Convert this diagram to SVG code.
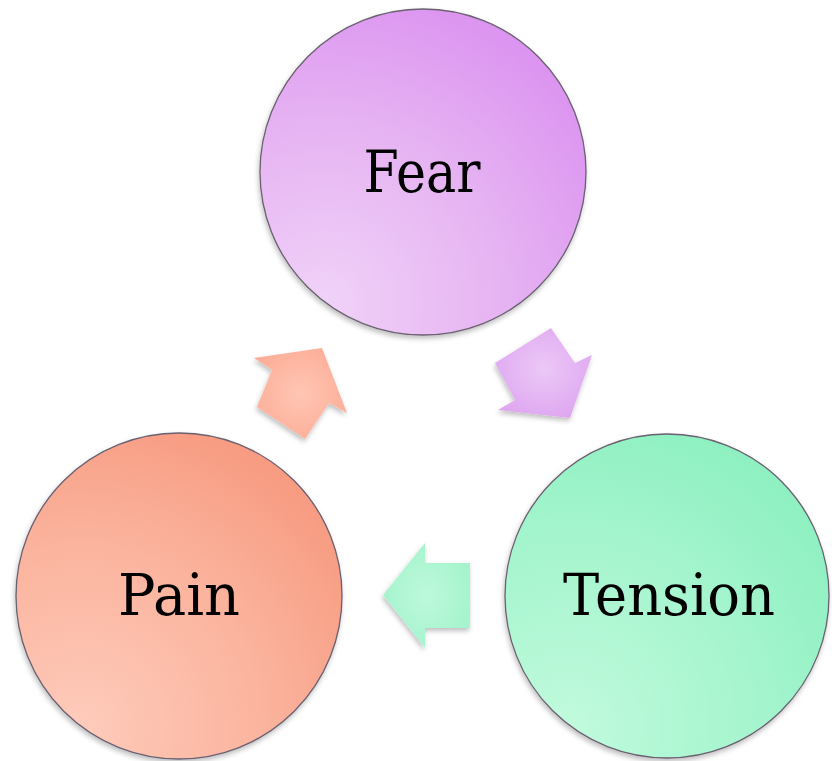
<svg xmlns="http://www.w3.org/2000/svg" width="832" height="761" viewBox="0 0 832 761">
<defs>
<radialGradient id="gFear" cx="0.2" cy="0.9" r="1.1">
<stop offset="0" stop-color="#f0d2f8"/>
<stop offset="0.5" stop-color="#e6b3f2"/>
<stop offset="1" stop-color="#d98cf0"/>
</radialGradient>
<radialGradient id="gPain" cx="0.2" cy="0.9" r="1.1">
<stop offset="0" stop-color="#fecbbb"/>
<stop offset="0.5" stop-color="#fbb49e"/>
<stop offset="1" stop-color="#f6957a"/>
</radialGradient>
<radialGradient id="gTension" cx="0.2" cy="0.9" r="1.1">
<stop offset="0" stop-color="#c0fadc"/>
<stop offset="0.5" stop-color="#a6f5cf"/>
<stop offset="1" stop-color="#88efbd"/>
</radialGradient>
<radialGradient id="aPain" cx="0.5" cy="0.5" r="0.6">
<stop offset="0" stop-color="#ffc6b4"/>
<stop offset="1" stop-color="#fcac95"/>
</radialGradient>
<radialGradient id="aFear" cx="0.5" cy="0.45" r="0.6">
<stop offset="0" stop-color="#ecc8f7"/>
<stop offset="1" stop-color="#dea6f0"/>
</radialGradient>
<radialGradient id="aTension" cx="0.5" cy="0.5" r="0.6">
<stop offset="0" stop-color="#bdf9dc"/>
<stop offset="1" stop-color="#a2f3cb"/>
</radialGradient>
<filter id="shadow" x="-20%" y="-20%" width="140%" height="140%">
<feDropShadow dx="-1" dy="3" stdDeviation="2.5" flood-color="#000" flood-opacity="0.25"/>
</filter>
</defs>
<style>
.node circle { stroke: #6a6070; stroke-width: 1.3; filter: url(#shadow); }
.label { font-family: "DejaVu Serif", "Liberation Serif", serif; font-size: 58px; fill: #000; text-anchor: middle; }
.conn polygon { filter: url(#shadow); }
</style>
<g id="connectors" class="conn">
<polygon id="pain-to-fear" points="322,348 347,413 329,403 305,439 257,407 272,370 254,358" fill="url(#aPain)"/>
<polygon id="fear-to-tension" points="551,328 575,363 592,355 570,418 498,410 515,400 495,363" fill="url(#aFear)"/>
<polygon id="tension-to-pain" points="383,595 425,543 425,563 470,563 470,628 425,628 425,648" fill="url(#aTension)"/>
</g>
<g id="fear" class="node">
<circle cx="423" cy="172" r="163" fill="url(#gFear)"/>
<text class="label" x="422" y="192" textLength="117" lengthAdjust="spacingAndGlyphs">Fear</text>
</g>
<g id="pain" class="node">
<circle cx="179" cy="596" r="163" fill="url(#gPain)"/>
<text class="label" x="179" y="615" textLength="122" lengthAdjust="spacingAndGlyphs">Pain</text>
</g>
<g id="tension" class="node">
<circle cx="667" cy="596" r="162" fill="url(#gTension)"/>
<text class="label" x="669" y="615" textLength="212" lengthAdjust="spacingAndGlyphs">Tension</text>
</g>
</svg>
